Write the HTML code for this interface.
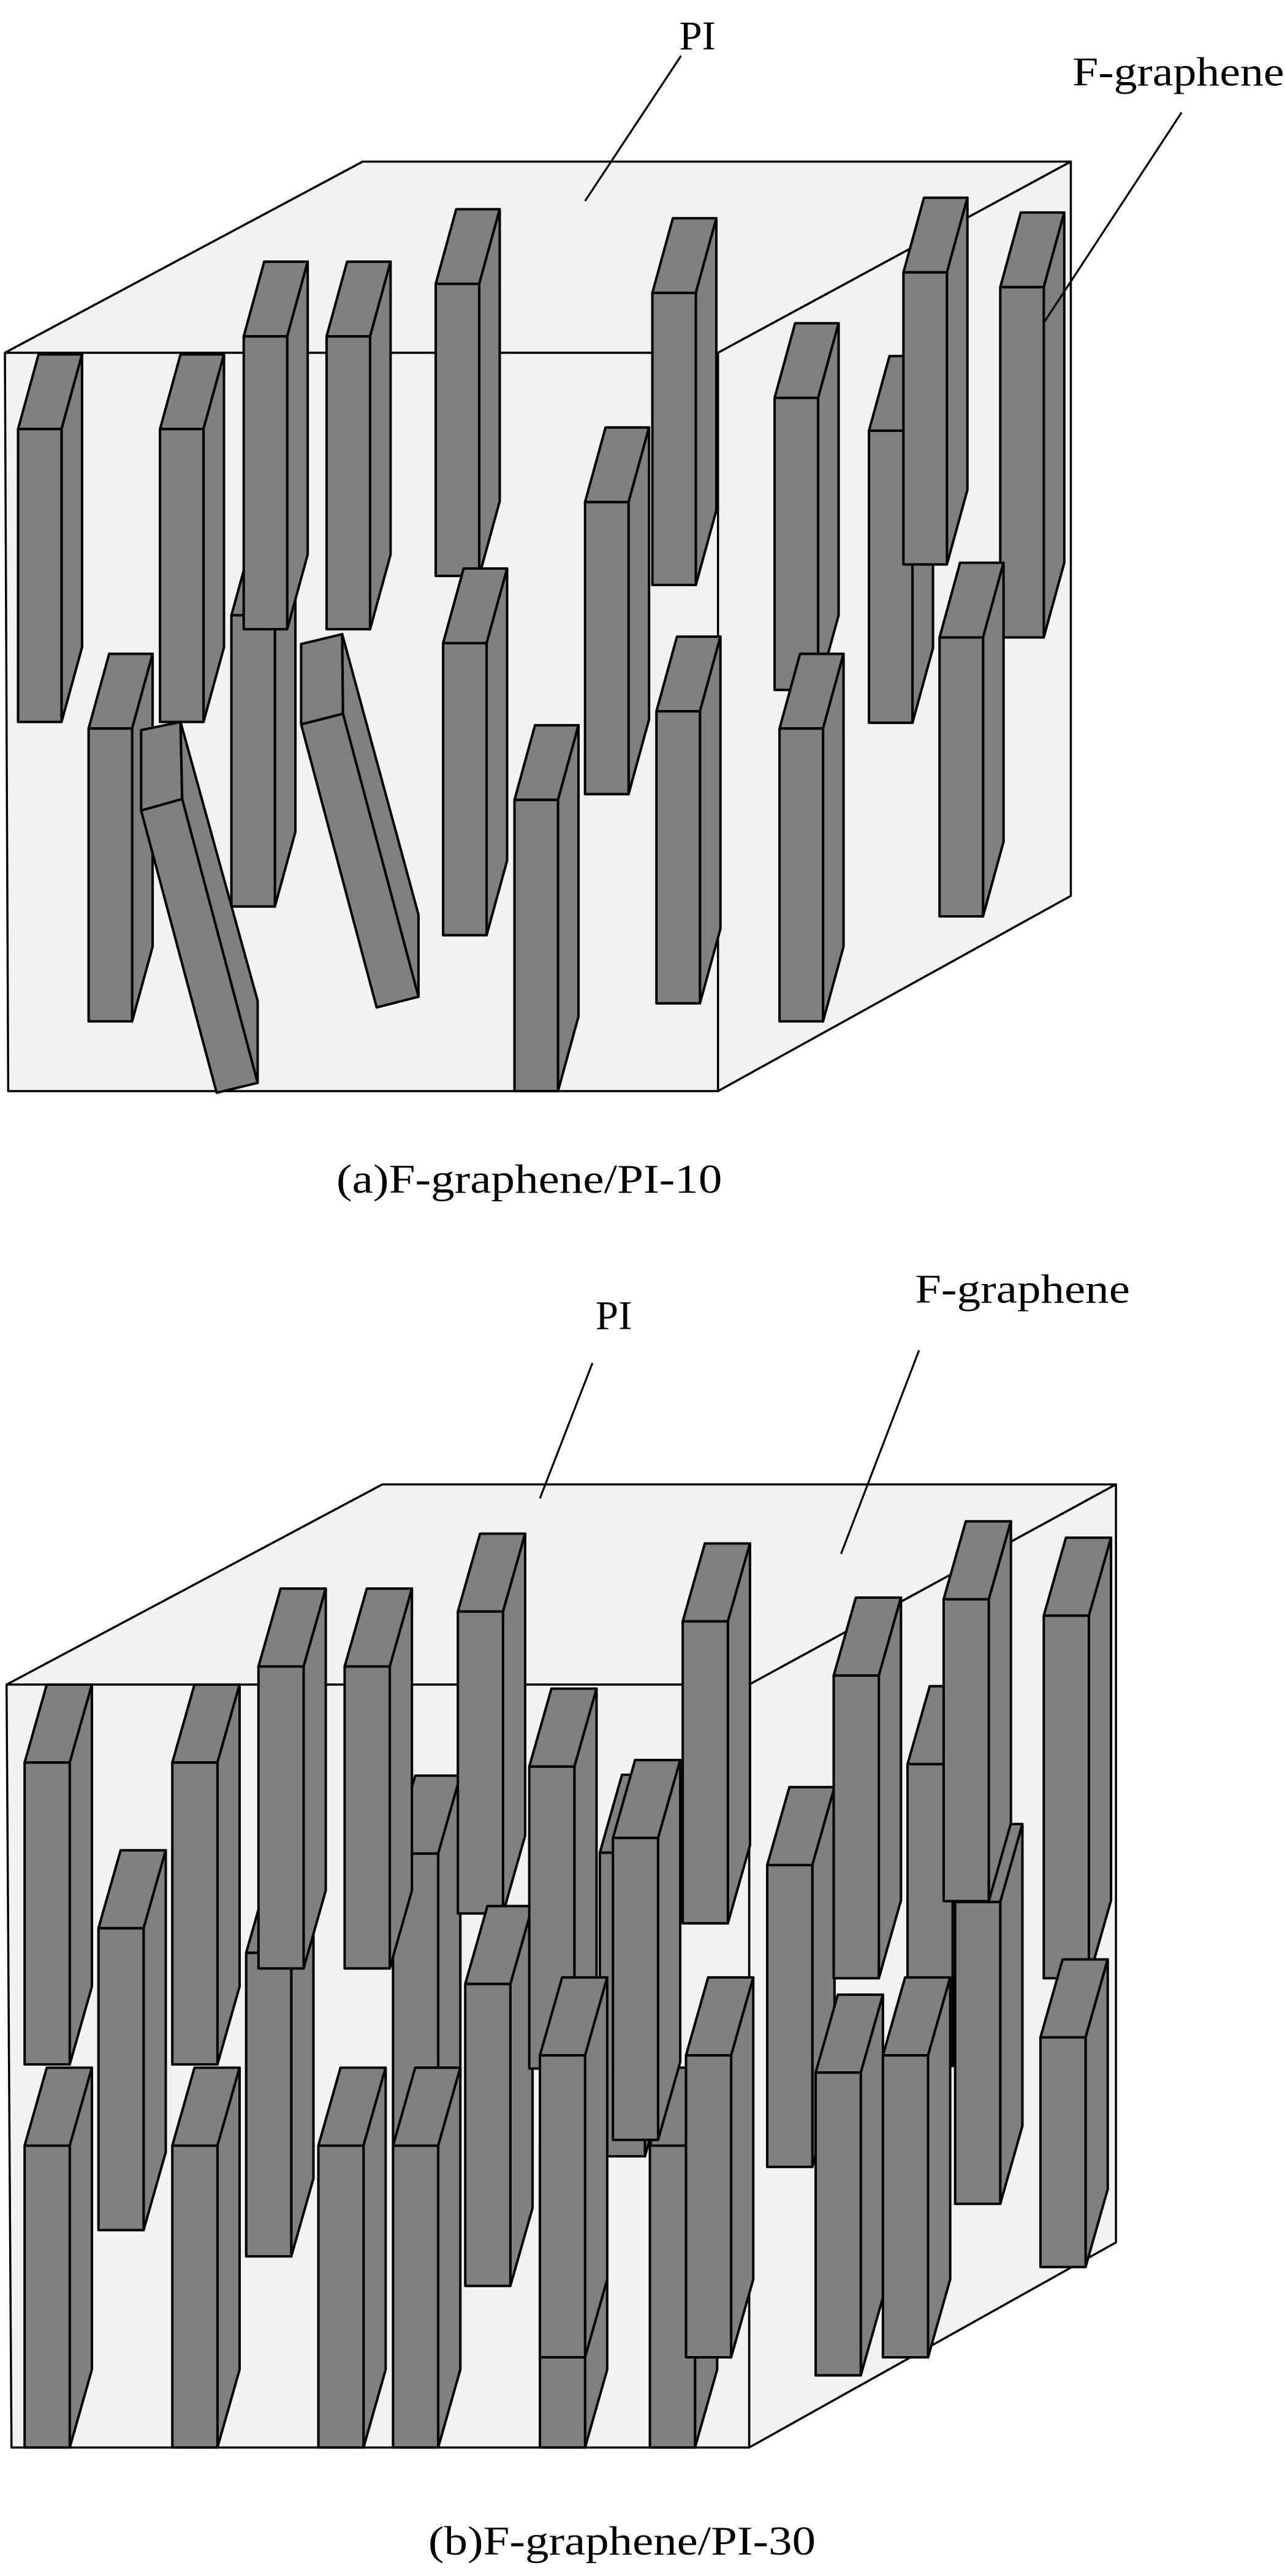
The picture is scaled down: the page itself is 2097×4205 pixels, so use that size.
<!DOCTYPE html>
<html><head><meta charset="utf-8">
<style>
html,body{margin:0;padding:0;background:#fff;}
svg{display:block;}
text{font-family:"Liberation Serif",serif;fill:#000;}
</style></head>
<body>
<svg id="s" xmlns="http://www.w3.org/2000/svg" width="2097" height="4205" viewBox="0 0 783 1570" preserveAspectRatio="none">
<rect x="0" y="0" width="783" height="1570" fill="#fff"/>
<g stroke="#000" stroke-width="1.3" fill="#f2f2f2" stroke-linejoin="round">
<polygon points="3,215 221,98.5 652.5,98.5 437.5,215"/>
<polygon points="437.5,215 652.5,98.5 652.5,546 437.5,665"/>
<polygon points="3,215 437.5,215 437.5,665 5,665"/>
</g>
<g id="barsA"></g>
<g stroke="#000" stroke-width="1.3" fill="#f2f2f2" stroke-linejoin="round">
<polygon points="4,1026.7 233,904.7 680,904.7 456.5,1026.7"/>
<polygon points="456.5,1026.7 680,904.7 680,1366.7 456.5,1491.7"/>
<polygon points="4,1026.7 456.5,1026.7 456.5,1491.7 7,1491.7"/>
</g>
<g id="barsB"></g>
<g stroke="#000" stroke-width="1.2">
<line x1="415" y1="34" x2="356.5" y2="122.5"/>
<line x1="720" y1="68.5" x2="636.5" y2="196"/>
<line x1="361" y1="830.7" x2="329" y2="913.2"/>
<line x1="560" y1="823" x2="512.5" y2="947"/>
</g>
<text x="425" y="30" font-size="25" text-anchor="middle">PI</text>
<text x="653.5" y="52" font-size="25" textLength="129" lengthAdjust="spacingAndGlyphs">F-graphene</text>
<text x="205" y="727" font-size="25" textLength="235" lengthAdjust="spacingAndGlyphs">(a)F-graphene/PI-10</text>
<text x="374" y="810" font-size="25" text-anchor="middle">PI</text>
<text x="557.5" y="794" font-size="25" textLength="131" lengthAdjust="spacingAndGlyphs">F-graphene</text>
<text x="261" y="1557" font-size="25" textLength="236" lengthAdjust="spacingAndGlyphs">(b)F-graphene/PI-30</text>
</svg>
<script>
(function(){
var NS="http://www.w3.org/2000/svg";
function poly(g,pts){var p=document.createElementNS(NS,"polygon");p.setAttribute("points",pts.map(function(a){return a[0]+","+a[1];}).join(" "));p.setAttribute("fill","#808080");p.setAttribute("stroke","#000");p.setAttribute("stroke-width","1.5");p.setAttribute("stroke-linejoin","round");g.appendChild(p);}
function bar(g,x,t,b,w,dx,dy){
poly(g,[[x,t],[x+dx,t-dy],[x+w+dx,t-dy],[x+w,t]]);
poly(g,[[x+w,t],[x+w+dx,t-dy],[x+w+dx,b-dy],[x+w,b]]);
poly(g,[[x,t],[x+w,t],[x+w,b],[x,b]]);
}
var gA=document.getElementById("barsA");
function A(x,t,b){bar(gA,x,t,b,26.5,12.5,45.5);}
A(141,375,552.5);A(529.5,262.5,440.5);
A(11,261.5,440);A(97.5,261.5,440);A(148.5,205,383.5);A(199,205,383.5);
A(265.5,173,351);A(397.5,178.5,356.5);A(54,444,622.5);
poly(gA,[[86,445],[110,440],[111,487],[86,494]]);
poly(gA,[[110,440],[111,487],[157,660],[157,610]]);
poly(gA,[[86,494],[111,487],[157,660],[132,666]]);
poly(gA,[[183.5,392.5],[208.5,386.5],[209,435],[183.5,441.5]]);
poly(gA,[[208.5,386.5],[209,435],[255,607.5],[255,557.5]]);
poly(gA,[[183.5,441.5],[209,435],[255,607.5],[229.5,614]]);
A(270,392,570);A(356.5,306,484);A(313.5,487.5,665);A(400,433.5,611.5);
A(472,242.5,420.5);A(550.5,166,344);A(609.5,175,388.5);A(572.5,388.5,558.5);A(475,444,622.5);
var gB=document.getElementById("barsB");
function B(x,t,b){x=x/2;t=784.2+t/2;b=784.2+b/2;bar(gB,x,t,b,27.5,13.5,47.5);}
B(300,812,1182);B(731,690,1060);B(1106,582,950);B(1164,750,1118);B(479,691,1060);B(792,1047,1415);B(658,1047,1415);
B(30,580,948);B(120,782,1150);B(210,580,948);B(315,463,831);B(420,463,831);B(558,396,764);
B(567,850,1218);B(645,585,953);B(747,672,1040);B(832,408,776);B(935,705,1073);B(1016,474,843);
B(1150,381,749);B(1272,401,843);B(1268,915,1195);
B(30,1047,1415);B(210,1047,1415);B(388,1047,1415);B(479,1047,1415);
B(658,937,1305);B(836,937,1305);B(994,958,1327);B(1076,937,1305);
})();
</script>
</body></html>
